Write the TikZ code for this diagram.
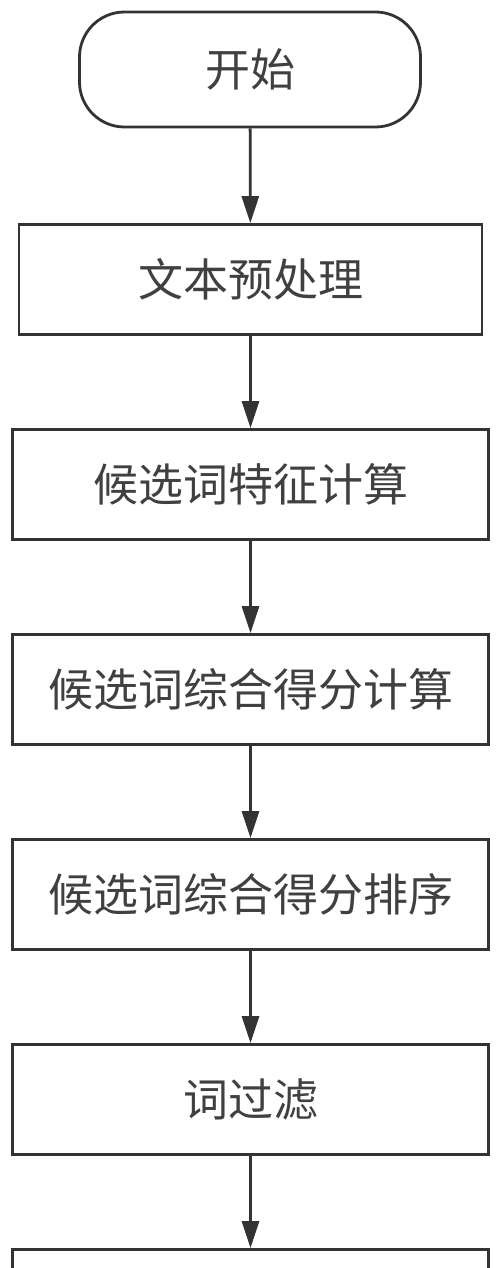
\documentclass[tikz,border=0pt]{standalone}
\usepackage{fontspec}
\newfontfamily\cjk{Noto Sans CJK SC}
\usetikzlibrary{arrows.meta}

\begin{document}
\begin{tikzpicture}[-{Triangle[length=27pt,width=17pt]},line width=2.8pt,
                    draw=black!80,node distance=205pt,x=1pt,y=1pt]
\tikzstyle{every node}=[font=\cjk\fontsize{45}{50}\selectfont,text=black!75]
\tikzstyle{proc}=[draw=black!80,line width=2.8pt,rectangle,inner sep=0pt,
                  minimum width=476pt,minimum height=110pt]
\tikzstyle{term}=[proc,rounded corners=45pt,minimum width=341pt,minimum height=115pt]
\path[use as bounding box] (0,0) rectangle (500,-1268);
\node[term] (start) at (250,-69.5) {开始};
\node[proc,minimum width=463pt] (pre) at (250.5,-279.5) {文本预处理};
\node[proc] (feat) [below of=pre] {候选词特征计算};
\node[proc] (score) [below of=feat] {候选词综合得分计算};
\node[proc] (rank) [below of=score] {候选词综合得分排序};
\node[proc] (filt) [below of=rank] {词过滤};
\node[proc] (next) [below of=filt] {};
\path (start) edge (pre)
      (pre) edge (feat)
      (feat) edge (score)
      (score) edge (rank)
      (rank) edge (filt)
      (filt) edge (next);
\end{tikzpicture}
\end{document}
